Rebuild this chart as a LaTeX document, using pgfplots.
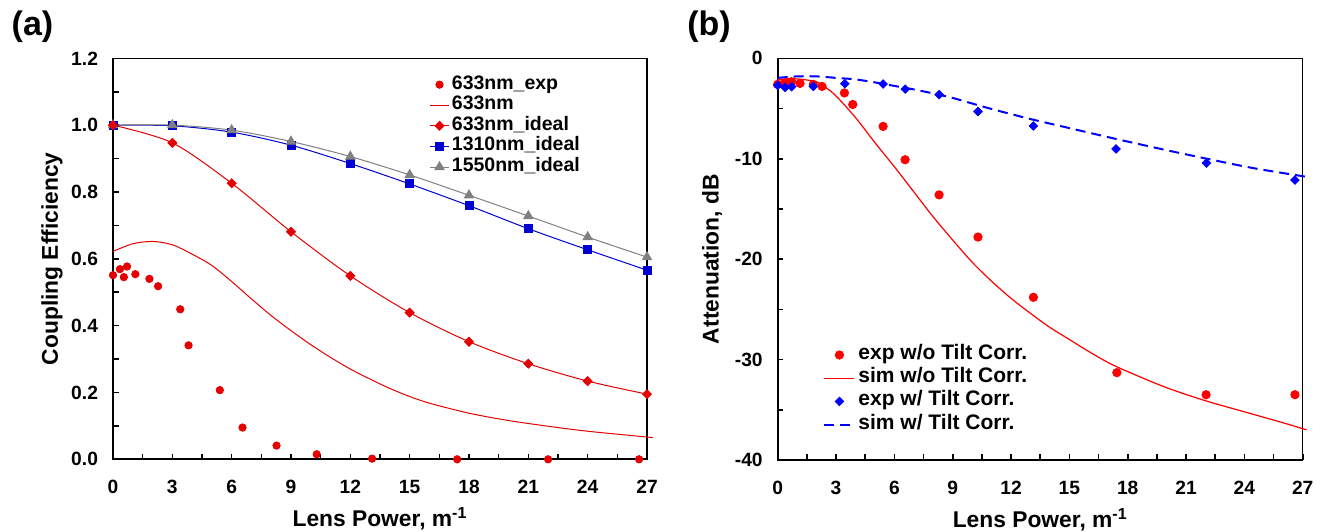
\documentclass[border=0pt]{standalone}
\usepackage{fontspec}
\setmainfont{Liberation Sans}
\usepackage{pgfplots}
\pgfplotsset{compat=1.18}

\definecolor{lred}{RGB}{228,0,0}
\definecolor{lblue}{RGB}{0,0,210}
\definecolor{lgray}{RGB}{128,128,128}
\definecolor{rred}{RGB}{255,0,0}
\definecolor{rblue}{RGB}{0,0,255}

\pgfplotsset{
  common/.style={
    scale only axis, clip=false,
    xmin=0, xmax=27, xtick={0,3,...,27}, minor x tick num=1,
    tick pos=left, tick align=inside,
    major tick length=2.8pt, minor tick length=2.8pt,
    tick style={black, line width=0.8pt},
    axis line style={line width=0.6pt},
    /pgf/number format/assume math mode=true,
    tick label style={font=\bfseries\fontsize{9.6}{11}\selectfont},
    xticklabel style={yshift=-7pt},
    yticklabel style={xshift=-4pt},
    label style={font=\bfseries\fontsize{11.4}{13}\selectfont},
    xlabel style={at={(axis description cs:0.5,-0.149)}, anchor=center},
    legend cell align=left,
  },
}

\begin{document}
\begin{tikzpicture}
\useasboundingbox (0,0) rectangle (662.5pt,265.5pt);

\node[font=\bfseries\fontsize{17}{17}\selectfont] at (16.25pt,252pt) {(a)};
\node[font=\bfseries\fontsize{17}{17}\selectfont] at (354.5pt,252pt) {(b)};

% (a) coupling efficiency
\begin{axis}[common,
  at={(56.5pt,35.85pt)}, anchor=south west,
  width=267pt, height=200.5pt,
  ymin=0, ymax=1.2, ytick={0,0.2,...,1.2}, minor y tick num=1,
  yticklabel style={/pgf/number format/fixed, /pgf/number format/fixed zerofill, /pgf/number format/precision=1},
  xlabel={Lens Power, m\textsuperscript{-1}},
  ylabel={Coupling Efficiency},
  ylabel style={at={(axis description cs:-0.114,0.5)}, anchor=center},
  legend style={draw=none, fill=none, at={(0.592,0.962)}, anchor=north west,
    inner sep=0pt, row sep=-0.4pt, font=\bfseries\fontsize{9.75}{10}\selectfont,
    nodes={inner xsep=1.2pt, inner ysep=0.35pt, text height=0.72em, text depth=0.28em}},
  legend image code/.code={\draw[mark repeat=2,mark phase=2,#1] plot coordinates {(0pt,0pt) (4.75pt,0pt) (9.5pt,0pt)};},
]
\draw[line width=1.1pt] (rel axis cs:0,1) |- (rel axis cs:1,0);

\addplot[only marks, mark=*, mark size=1.85pt, color=lred] coordinates {
  (0,0.551) (0.35,0.569) (0.55,0.545) (0.71,0.577) (1.13,0.554) (1.84,0.540)
  (2.28,0.518) (3.4,0.449) (3.82,0.341) (5.4,0.207) (6.55,0.095) (8.27,0.041)
  (10.3,0.015) (13.1,0.002) (17.4,0.0) (22.0,0.0) (26.6,0.0)};
\addlegendentry{633nm\_exp}

\addplot[lred, line width=0.5pt, smooth, no marks] coordinates {
  (0,0.622) (1,0.645) (2,0.652) (3,0.642) (4,0.614) (5,0.580) (6,0.532)
  (7,0.480) (8,0.430) (9,0.385) (10,0.343) (11,0.305) (12,0.270) (13,0.240)
  (14,0.212) (15,0.188) (16,0.168) (18,0.138) (20,0.116) (22,0.099)
  (24,0.084) (27.3,0.065)};
\addlegendentry{633nm}

\addplot[lred, line width=0.5pt, smooth, mark=square*, mark size=1.55pt, mark options={rotate=45}] coordinates {
  (0,1.0) (3,0.947) (6,0.826) (9,0.681) (12,0.549) (15,0.439) (18,0.352)
  (21,0.286) (24,0.234) (27,0.195)};
\addlegendentry{633nm\_ideal}

\addplot[lblue, line width=0.5pt, smooth, mark=square*, mark size=2pt] coordinates {
  (0,1.0) (3,0.998) (6,0.979) (9,0.940) (12,0.885) (15,0.824) (18,0.759)
  (21,0.690) (24,0.627) (27,0.566)};
\addlegendentry{1310nm\_ideal}

\addplot[lgray, line width=0.5pt, smooth, mark=triangle*, mark size=2.6pt] coordinates {
  (0,1.0) (3,1.0) (6,0.985) (9,0.951) (12,0.906) (15,0.851) (18,0.790)
  (21,0.728) (24,0.665) (27,0.605)};
\addlegendentry{1550nm\_ideal}

\addplot[forget plot, only marks, lred, mark=square*, mark size=1.55pt, mark options={rotate=45}] coordinates {(0,1.0)};
\end{axis}

% (b) attenuation
\begin{axis}[common,
  at={(388.85pt,35.5pt)}, anchor=south west,
  width=262.5pt, height=200.85pt,
  ymin=-40, ymax=0, ytick={-40,-30,...,0}, minor y tick num=1,
  xlabel={Lens Power, m\textsuperscript{-1}},
  ylabel={Attenuation, dB},
  ylabel style={at={(axis description cs:-0.125,0.5)}, anchor=center},
  legend style={draw=none, fill=none, at={(0.0863,0.289)}, anchor=north west,
    inner sep=0pt, row sep=0.9pt, font=\bfseries\fontsize{10.5}{11}\selectfont,
    nodes={inner xsep=1.5pt, inner ysep=0.35pt, text height=0.72em, text depth=0.28em}},
  legend image code/.code={\draw[mark repeat=2,mark phase=2,#1] plot coordinates {(0pt,0pt) (7.5pt,0pt) (15pt,0pt)};},
]
\draw[line width=1.1pt] (rel axis cs:0,1) |- (rel axis cs:1,0);

\addplot[only marks, mark=*, mark size=2.1pt, color=rred] coordinates {
  (0,-2.59) (0.35,-2.45) (0.55,-2.4) (0.71,-2.33) (1.15,-2.5) (1.83,-2.6)
  (2.28,-2.8) (3.43,-3.45) (3.86,-4.6) (5.42,-6.78) (6.55,-10.1) (8.3,-13.6)
  (10.3,-17.8) (13.15,-23.8) (17.44,-31.3) (22.03,-33.5) (26.6,-33.5)};
\addlegendentry{exp w/o Tilt Corr.}

\addplot[rred, line width=0.6pt, smooth, no marks] coordinates {
  (0,-2.1) (1,-2.05) (2,-2.35) (2.5,-2.95) (3,-3.75) (4,-5.9) (5,-8.4)
  (6,-10.8) (7,-13.3) (8,-15.8) (9,-18.1) (10,-20.3) (11,-22.2) (12,-23.9)
  (13,-25.4) (14,-26.8) (15,-28.0) (16,-29.2) (17,-30.3) (18,-31.2)
  (20,-32.8) (22,-34.1) (24,-35.2) (26,-36.3) (27.2,-37.0)};
\addlegendentry{sim w/o Tilt Corr.}

\addplot[only marks, mark=square*, mark size=1.5pt, mark options={rotate=45}, color=rblue] coordinates {
  (0,-2.7) (0.38,-2.9) (0.72,-2.83) (1.83,-2.8) (3.45,-2.53) (5.42,-2.56)
  (6.56,-3.07) (8.3,-3.62) (10.3,-5.3) (13.15,-6.74) (17.4,-9.03)
  (22.05,-10.43) (26.6,-12.12)};
\addlegendentry{exp w/ Tilt Corr.}

\addplot[rblue, line width=1pt, dash pattern=on 5pt off 3pt, smooth, no marks] coordinates {
  (0,-1.95) (1,-1.8) (2,-1.8) (3,-1.95) (4,-2.1) (5,-2.4) (6,-2.75) (7,-3.1)
  (8,-3.5) (9,-3.95) (10,-4.5) (11,-5.05) (12,-5.55) (13,-6.05) (15,-6.95)
  (17.44,-8.05) (20,-9.15) (22.07,-10.0) (24.5,-10.95) (27.2,-11.8)};
\addlegendentry{sim w/ Tilt Corr.}
\end{axis}
\end{tikzpicture}
\end{document}
